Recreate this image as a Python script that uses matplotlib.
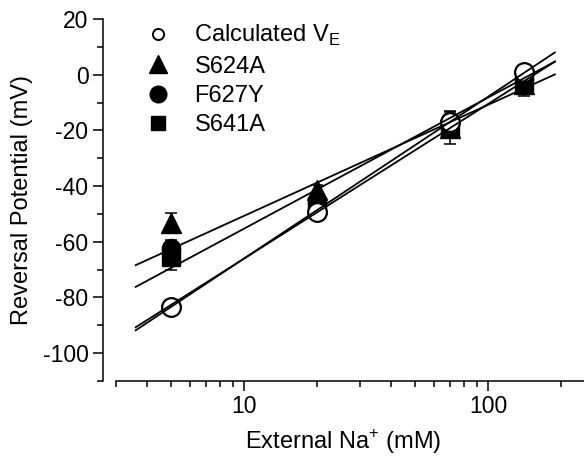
import numpy as np
import matplotlib
matplotlib.use("Agg")
import matplotlib.pyplot as plt
from matplotlib.lines import Line2D
from matplotlib.ticker import FixedLocator, NullFormatter, FixedFormatter

plt.rcParams['font.family'] = ['Liberation Sans', 'DejaVu Sans']
plt.rcParams['mathtext.fontset'] = 'custom'
plt.rcParams['mathtext.rm'] = 'Liberation Sans'
plt.rcParams['axes.unicode_minus'] = False

# External Na+ (mM)
na_ext = [5, 20, 70, 140]

# Reversal potentials (mV)
calc_ve = [-83.5, -49.2, -17.0, 0.8]
s624a = [-53.3, -41.5, -19.0, -3.5]
s624a_err = [3.5, 2.0, 2.0, 2.0]
f627y = [-62.3, -46.0, -16.5, -1.5]
f627y_err = [3.0, 2.0, 3.0, 2.0]
s641a = [-65.5, -47.0, -19.0, -2.5]
s641a_err = [4.5, 2.0, 6.0, 5.0]

# straight fit lines: value at line start / line end
fit_x = [3.6, 188]
fit_start = [-68.4, -76.2, -90.7, -91.8]
fit_end = [0.1, 4.7, 4.7, 8.0]

fig = plt.figure(figsize=(5.84, 4.58), dpi=100)
ax = fig.add_axes([103/584, 1 - 381/458, 481/584, 362/458])

kw = dict(color="black", ecolor="black", elinewidth=1.1, capsize=4, capthick=1.1, ls="none")
ax.errorbar(na_ext, s641a, yerr=s641a_err, marker="s", ms=13, zorder=3, **kw)
ax.errorbar(na_ext, f627y, yerr=f627y_err, marker="o", ms=13, zorder=3, **kw)
ax.errorbar(na_ext, s624a, yerr=s624a_err, marker="^", ms=15, zorder=3, **kw)
ax.plot(na_ext, calc_ve, ls="none", marker="o", ms=13.5, mfc="white", mec="black", mew=1.6, zorder=4)

for y0, y1 in zip(fit_start, fit_end):
    ax.plot(fit_x, [y0, y1], color="black", lw=1.3, zorder=5)

ax.set_xscale("log")
ax.set_xlim(2.644, 247.4)
ax.set_ylim(-110, 20)
ax.spines["top"].set_visible(False)
ax.spines["right"].set_visible(False)
ax.spines["bottom"].set_bounds(3, 247.4)
ax.spines["bottom"].set_linewidth(1.1)
ax.spines["left"].set_linewidth(1.1)

ax.xaxis.set_major_locator(FixedLocator([10, 100]))
ax.xaxis.set_major_formatter(FixedFormatter(["10", "100"]))
ax.xaxis.set_minor_locator(FixedLocator([3, 4, 5, 6, 7, 8, 9, 20, 30, 40, 50, 60, 70, 80, 90, 200]))
ax.xaxis.set_minor_formatter(NullFormatter())
ax.set_yticks(np.arange(-100, 21, 20))
ax.yaxis.set_minor_locator(FixedLocator(np.arange(-110, 21, 10)))

ax.tick_params(which="major", length=7, width=1.1, labelsize=16.5, direction="out")
ax.tick_params(which="minor", length=4, width=1.1, direction="out")
ax.tick_params(axis="x", pad=3)

ax.set_xlabel(r"External Na$^\mathregular{+}$ (mM)", fontsize=17, labelpad=7)
ax.set_ylabel("Reversal Potential (mV)", fontsize=17, labelpad=7)

handles = [
    Line2D([], [], ls="none", marker="o", ms=8, mfc="white", mec="black", mew=1.4),
    Line2D([], [], ls="none", marker="^", ms=13, color="black"),
    Line2D([], [], ls="none", marker="o", ms=12, color="black"),
    Line2D([], [], ls="none", marker="s", ms=10, color="black"),
]
labels = [r"Calculated V$_\mathregular{E}$", "S624A", "F627Y", "S641A"]
ax.legend(handles, labels, loc="upper left", bbox_to_anchor=(146/584, 1 - 23/458),
          bbox_transform=fig.transFigure, frameon=False, fontsize=17,
          handlelength=1.0, handletextpad=1.05, labelspacing=0.31,
          borderpad=0, borderaxespad=0)

fig.savefig("out.png", dpi=100)
